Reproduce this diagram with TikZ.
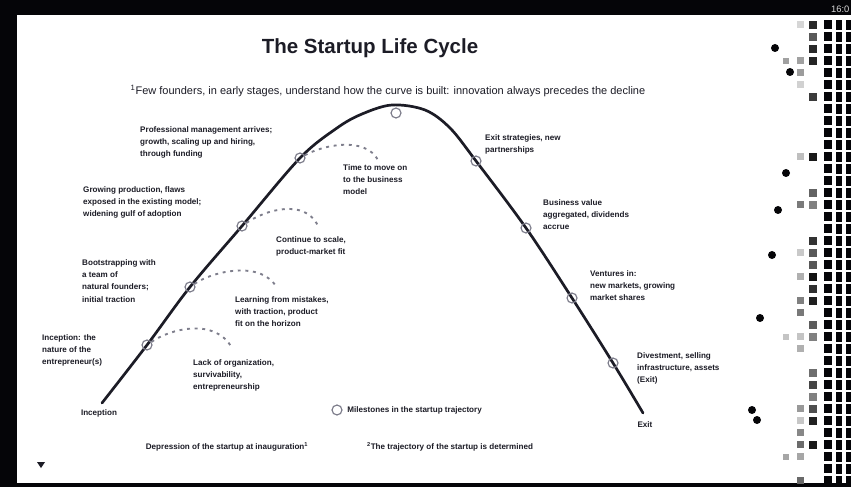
\documentclass[tikz,border=0pt]{standalone}
\usepackage{fontspec}
\setmainfont{Liberation Sans}
\usetikzlibrary{positioning}
\definecolor{Ink}{HTML}{1C1C26}
\definecolor{Smoke}{HTML}{7E7E8C}
\definecolor{Screen}{HTML}{050508}

\begin{document}
\begin{tikzpicture}[x=0.03cm,y=-0.03cm,
  note/.style={anchor=north west,align=left,inner sep=0pt,text=Ink,
    font=\bfseries\fontsize{6.9}{10.6}\selectfont},
  milestone/.style={circle,draw=Smoke,line width=1pt,inner sep=0pt,minimum size=8.5pt},
  fizzle/.style={draw=Smoke,line width=1.6pt,dash pattern=on 2.5pt off 4pt},
  curve/.style={draw=Ink,line width=2.3pt,line cap=round}]
\useasboundingbox (0,0) rectangle (851,487);
% screen frame
\fill[Screen] (0,0) rectangle (851,487);
\fill[white] (17,15) rectangle (851,483);
\node[text=white!85!black,font=\fontsize{8}{8}\selectfont,anchor=west] (clock) at (827,9) {16:0};
% title and subtitle
\node[font=\bfseries\fontsize{17.5}{17.5}\selectfont,text=Ink] (title) at (370,48) {The Startup Life Cycle};
\node[font=\fontsize{9.4}{11}\selectfont,text=Ink] (subtitle) at (388,91)
  {\textsuperscript{1}Few founders, in early stages, understand how the curve is built: innovation always precedes the decline};
% the curve
\draw[curve] plot[smooth,tension=0.55] coordinates {(102,403) (147,345) (190,287) (242,226) (300,158)
  (337,128) (362,114) (392,105) (425,110) (450,128) (476,161) (526,228) (572,298) (613,363) (643,413)};
% milestones
\node[milestone] (m1) at (147,345) {};
\node[milestone] (m2) at (190,287) {};
\node[milestone] (m3) at (242,226) {};
\node[milestone] (m4) at (300,158) {};
\node[milestone] (peak) at (396,113) {};
\node[milestone] (d1) at (476,161) {};
\node[milestone] (d2) at (526,228) {};
\node[milestone] (d3) at (572,298) {};
\node[milestone] (d4) at (613,363) {};
% startups that fade out
\coordinate (f1) at (232,348);\coordinate (f2) at (277,288);
\coordinate (f3) at (318,226);\coordinate (f4) at (378,160);
\draw[fizzle] (m1) .. controls (170,329) and (215,317) .. (f1);
\draw[fizzle] (m2) .. controls (213,271) and (262,260) .. (f2);
\draw[fizzle] (m3) .. controls (265,210) and (305,198) .. (f3);
\draw[fizzle] (m4) .. controls (323,145) and (365,136) .. (f4);
% growth side
\node[note] (management) at (140,126) {Professional management arrives;\\growth, scaling up and hiring,\\through funding};
\node[note] (production) at (83,186) {Growing production, flaws\\exposed in the existing model;\\widening gulf of adoption};
\node[note] (bootstrap) at (82,259) {Bootstrapping with\\a team of\\natural founders;\\initial traction};
\node[note] (nature) at (42,334) {Inception: the\\nature of the\\entrepreneur(s)};
\node[note] (capital) at (193,359) {Lack of organization,\\survivability,\\entrepreneurship};
\node[note] (mistakes) at (235,296) {Learning from mistakes,\\with traction, product\\fit on the horizon};
\node[note] (scale) at (276,236) {Continue to scale,\\product-market fit};
\node[note] (move) at (343,164) {Time to move on\\to the business\\model};
% decline side
\node[note] (strategies) at (485,134) {Exit strategies, new\\partnerships};
\node[note] (value) at (543,199) {Business value\\aggregated, dividends\\accrue};
\node[note] (ventures) at (590,270) {Ventures in:\\new markets, growing\\market shares};
\node[note] (divest) at (637,352) {Divestment, selling\\infrastructure, assets\\(Exit)};
% ends of the curve
\node[note,anchor=center] (inception) at (99,413) {Inception};
\node[note,anchor=center] (exit) at (645,425) {Exit};
% legend and footnotes
\node[milestone] (key) at (337,410) {};
\node[note,anchor=west,right=4pt of key] (keytext) {Milestones in the startup trajectory};
\node[note,anchor=center] (foot1) at (227,447) {Depression of the startup at inauguration\textsuperscript{1}};
\node[note,anchor=center] (foot2) at (450,447) {\textsuperscript{2}The trajectory of the startup is determined};
\fill[Ink] (37,462) -- (45,462) -- (41,468) -- cycle;
% neighbouring window
\pgfmathsetseed{11}
\foreach \j in {0,...,38}{
  \fill[Screen] (824,{20+\j*12}) rectangle (832,{29+\j*12});
  \fill[Screen] (836,{20+\j*12}) rectangle (842,{30+\j*12});
  \fill[Screen] (846,{20+\j*12}) rectangle (851,{30+\j*12});
  \pgfmathsetmacro{\pa}{rnd}\pgfmathsetmacro{\pb}{rnd}\pgfmathsetmacro{\pc}{rnd}
  \pgfmathsetmacro{\ga}{int(50+50*rnd)}
  \pgfmathsetmacro{\gb}{int(15+45*rnd)}
  \ifdim\pa pt>0.35pt \fill[black!\ga] (809,{21+\j*12}) rectangle (817,{29+\j*12}); \fi
  \ifdim\pb pt>0.5pt \fill[black!\gb] (797,{21+\j*12}) rectangle (804,{28+\j*12}); \fi
  \ifdim\pc pt>0.85pt \fill[black!\gb] (783,{22+\j*12}) rectangle (789,{28+\j*12}); \fi
}
\foreach \p in {(775,48),(790,72),(786,173),(778,210),(760,318),(772,255),(757,420),(752,410)}
  \fill[Screen] \p circle (4);
\end{tikzpicture}
\end{document}
